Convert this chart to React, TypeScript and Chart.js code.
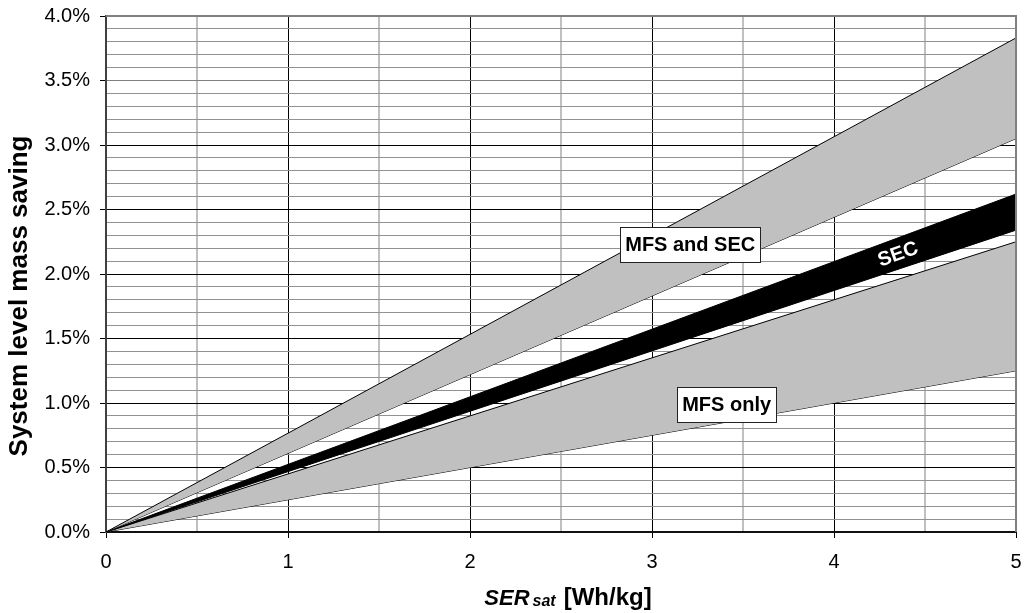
import React, { useEffect, useRef } from 'react';
import { Chart, registerables } from 'chart.js';

Chart.register(...registerables);

// SER_sat values [Wh/kg] at which each boundary line is given
const serSat = [0, 5];

// System level mass saving [%] along each band boundary
const mfsAndSecHigh = [0, 3.83];
const mfsAndSecLow = [0, 3.05];
const secHigh = [0, 2.62];
const secLow = [0, 2.34];
const mfsOnlyHigh = [0, 2.25];
const mfsOnlyLow = [0, 1.25];

// Axis ranges and tick steps
const xRange = [0, 5];
const yRange = [0, 4];
const xStep = 0.5;
const yStep = 0.1;

// Boxed band labels (placed in data coordinates)
const boxedLabels = [
  { text: 'MFS and SEC', x: 3.21, y: 2.23 },
  { text: 'MFS only', x: 3.41, y: 0.99 },
];
// The SEC label sits inside the black band at this x
const secLabelX = 4.35;

const FONT = "'Liberation Sans', Arial, Helvetica, sans-serif";
const GRAY = '#c0c0c0';

const toPoints = (ys: number[]) => serSat.map((x, i) => ({ x, y: ys[i] }));

const isMultiple = (v: number, m: number) => Math.abs(v / m - Math.round(v / m)) < 1e-6;

const annotations = {
  id: 'annotations',
  afterDatasetsDraw(chart: any) {
    const { ctx, chartArea, scales } = chart;
    const xs = scales.x;
    const ys = scales.y;
    ctx.save();

    // frame on top and right edges
    ctx.strokeStyle = '#808080';
    ctx.lineWidth = 2;
    ctx.beginPath();
    ctx.moveTo(chartArea.left, chartArea.top);
    ctx.lineTo(chartArea.right, chartArea.top);
    ctx.lineTo(chartArea.right, chartArea.bottom);
    ctx.stroke();

    // boxed labels
    ctx.font = `bold 20px ${FONT}`;
    ctx.textAlign = 'center';
    ctx.textBaseline = 'middle';
    for (const l of boxedLabels) {
      const px = xs.getPixelForValue(l.x);
      const py = ys.getPixelForValue(l.y);
      const w = ctx.measureText(l.text).width + 10;
      const h = 35;
      ctx.fillStyle = '#ffffff';
      ctx.fillRect(Math.round(px - w / 2) + 0.5, Math.round(py - h / 2) + 0.5, Math.round(w), h);
      ctx.strokeStyle = '#222';
      ctx.lineWidth = 1;
      ctx.strokeRect(Math.round(px - w / 2) + 0.5, Math.round(py - h / 2) + 0.5, Math.round(w), h);
      ctx.fillStyle = '#000';
      ctx.fillText(l.text, px, py + 1);
    }

    // SEC label along the black band
    const last = serSat.length - 1;
    const midEnd = (secHigh[last] + secLow[last]) / 2;
    const x0 = xs.getPixelForValue(serSat[0]);
    const y0 = ys.getPixelForValue((secHigh[0] + secLow[0]) / 2);
    const x1 = xs.getPixelForValue(serSat[last]);
    const y1 = ys.getPixelForValue(midEnd);
    const angle = Math.atan2(y1 - y0, x1 - x0);
    const frac = (secLabelX - serSat[0]) / (serSat[last] - serSat[0]);
    const lx = x0 + (x1 - x0) * frac;
    const ly = y0 + (y1 - y0) * frac;
    ctx.translate(lx, ly);
    ctx.rotate(angle);
    ctx.fillStyle = '#ffffff';
    ctx.font = `bold 20px ${FONT}`;
    ctx.fillText('SEC', 0, 1);
    ctx.restore();
  },
  afterDraw(chart: any) {
    const { ctx, chartArea } = chart;
    ctx.save();
    // y axis title
    ctx.translate(20, 296);
    ctx.rotate(-Math.PI / 2);
    ctx.font = `bold 26px ${FONT}`;
    ctx.textAlign = 'center';
    ctx.textBaseline = 'middle';
    ctx.fillStyle = '#000';
    ctx.fillText('System level mass saving', 0, 0);
    ctx.restore();

    // x axis title: SER_sat [Wh/kg]
    ctx.save();
    ctx.fillStyle = '#000';
    ctx.textBaseline = 'alphabetic';
    ctx.textAlign = 'left';
    const parts = [
      { t: 'SER', f: `italic bold 22px ${FONT}`, dy: 0, gap: 3 },
      { t: 'sat', f: `italic bold 16px ${FONT}`, dy: 1, gap: 8 },
      { t: '[Wh/kg]', f: `bold 24px ${FONT}`, dy: 0, gap: 0 },
    ];
    let total = 0;
    for (const p of parts) {
      ctx.font = p.f;
      total += ctx.measureText(p.t).width + p.gap;
    }
    let x = (chartArea.left + chartArea.right) / 2 + 7 - total / 2;
    const base = 605;
    for (const p of parts) {
      ctx.font = p.f;
      ctx.fillText(p.t, x, base + p.dy);
      x += ctx.measureText(p.t).width + p.gap;
    }
    ctx.restore();
  },
};

export default function App() {
  const canvasRef = useRef<HTMLCanvasElement | null>(null);

  useEffect(() => {
    const canvas = canvasRef.current;
    if (!canvas) return;

    const line = { borderColor: '#000', borderWidth: 1, pointRadius: 0, tension: 0 };

    const chart = new Chart(canvas, {
      type: 'line',
      data: {
        datasets: [
          { ...line, label: 'MFS and SEC (upper)', data: toPoints(mfsAndSecHigh), fill: '+1', backgroundColor: GRAY },
          { ...line, label: 'MFS and SEC (lower)', data: toPoints(mfsAndSecLow), fill: false },
          { ...line, label: 'SEC (upper)', data: toPoints(secHigh), fill: '+1', backgroundColor: '#000' },
          { ...line, label: 'SEC (lower)', data: toPoints(secLow), fill: false },
          { ...line, label: 'MFS only (upper)', data: toPoints(mfsOnlyHigh), fill: '+1', backgroundColor: GRAY },
          { ...line, label: 'MFS only (lower)', data: toPoints(mfsOnlyLow), fill: false },
        ],
      },
      options: {
        responsive: false,
        animation: false,
        parsing: false,
        layout: { padding: { top: 16, right: 9, left: 0, bottom: 0 } },
        plugins: {
          legend: { display: false },
          tooltip: { enabled: false },
          title: { display: false },
        },
        scales: {
          x: {
            type: 'linear',
            min: xRange[0],
            max: xRange[1],
            afterFit: (s: any) => {
              s.height = 81;
              s.paddingLeft = 0;
              s.paddingRight = 0;
            },
            border: { display: true, color: '#111', width: 2 },
            grid: {
              color: (c: any) => {
                const v = c.tick?.value ?? 0;
                if (!isMultiple(v, 1)) return GRAY;
                return v >= xRange[1] ? '#808080' : '#000';
              },
              lineWidth: (c: any) => (isMultiple(c.tick?.value ?? 0, 1) ? 1 : 2),
              tickColor: (c: any) => (isMultiple(c.tick?.value ?? 0, 1) ? '#000' : 'rgba(0,0,0,0)'),
              tickLength: 6,
              tickWidth: 1,
            },
            ticks: {
              stepSize: xStep,
              autoSkip: false,
              maxRotation: 0,
              padding: 12,
              color: '#000',
              font: { family: FONT, size: 20 },
              callback: (v: any) => (isMultiple(Number(v), 1) ? String(Math.round(Number(v))) : ''),
            },
          },
          y: {
            type: 'linear',
            min: yRange[0],
            max: yRange[1],
            afterFit: (s: any) => {
              s.width = 106;
              s.paddingTop = 0;
              s.paddingBottom = 0;
            },
            border: { display: true, color: '#404040', width: 2 },
            grid: {
              color: (c: any) => {
                const v = c.tick?.value ?? 0;
                if (!isMultiple(v, 0.5)) return '#929292';
                return v >= 3.49 ? '#808080' : '#000';
              },
              lineWidth: 1,
              tickColor: (c: any) => (isMultiple(c.tick?.value ?? 0, 0.5) ? '#000' : 'rgba(0,0,0,0)'),
              tickLength: 6,
              tickWidth: 1,
            },
            ticks: {
              stepSize: yStep,
              autoSkip: false,
              padding: 10,
              color: '#000',
              font: { family: FONT, size: 20 },
              callback: (v: any) => (isMultiple(Number(v), 0.5) ? Number(v).toFixed(1) + '%' : ''),
            },
          },
        },
      },
      plugins: [annotations],
    } as any);

    return () => chart.destroy();
  }, []);

  return (
    <div style={{ position: 'absolute', left: 0, top: 0, width: 1025, height: 613, background: '#fff' }}>
      <canvas ref={canvasRef} width={1025} height={613} style={{ display: 'block' }} />
    </div>
  );
}
